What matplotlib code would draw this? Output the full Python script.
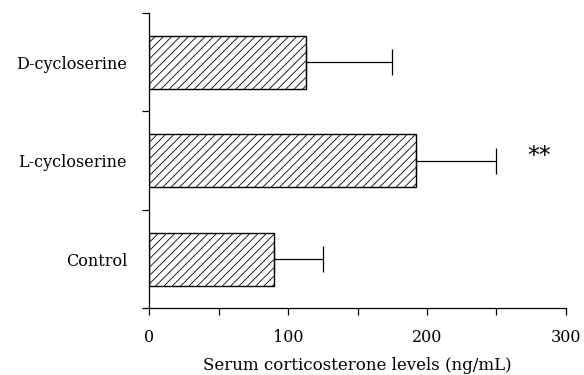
import numpy as np
import matplotlib
matplotlib.use('Agg')
import matplotlib.pyplot as plt

# data (ng/mL)
groups = ['Control', 'L-cycloserine', 'D-cycloserine']
means = [90, 192, 113]
errors = [35, 58, 62]
signif = ['', '**', '']

plt.rcParams['font.family'] = 'DejaVu Serif'
plt.rcParams['hatch.linewidth'] = 0.6

fig = plt.figure(figsize=(5.84, 3.75), dpi=100)
ax = fig.add_axes([0.2557, 0.178, 0.713, 0.787])

pos = np.arange(len(groups))
ax.barh(pos, means, height=0.54, color='white', edgecolor='black',
        hatch='////', linewidth=1.0)
ax.errorbar(means, pos, xerr=[np.zeros(len(errors)), errors], fmt='none',
            ecolor='black', elinewidth=0.9, capsize=9.7, capthick=0.9)

for p, m, e, s in zip(pos, means, errors, signif):
    if s:
        ax.text(m + e + 31, p + 0.05, s, family='DejaVu Sans', fontsize=17,
                ha='center', va='center')

ax.set_xlim(0, 300)
ax.set_ylim(-0.5, 2.5)
ax.set_xticks([0, 100, 200, 300])
ax.set_xticks([50, 150, 250], minor=True)
ax.set_yticks(pos)
ax.set_yticklabels(groups)
ax.set_yticks([-0.5, 0.5, 1.5, 2.5], minor=True)

ax.tick_params(axis='y', which='major', length=0, pad=16, labelsize=11.5)
ax.tick_params(axis='y', which='minor', length=5, width=0.9)
ax.tick_params(axis='x', which='both', length=5, width=0.9, pad=10, labelsize=11.5)

ax.spines['top'].set_visible(False)
ax.spines['right'].set_visible(False)
ax.spines['left'].set_linewidth(0.9)
ax.spines['bottom'].set_linewidth(0.9)

ax.set_xlabel('Serum corticosterone levels (ng/mL)', fontsize=12, labelpad=8)

fig.savefig('out.png', dpi=100)
